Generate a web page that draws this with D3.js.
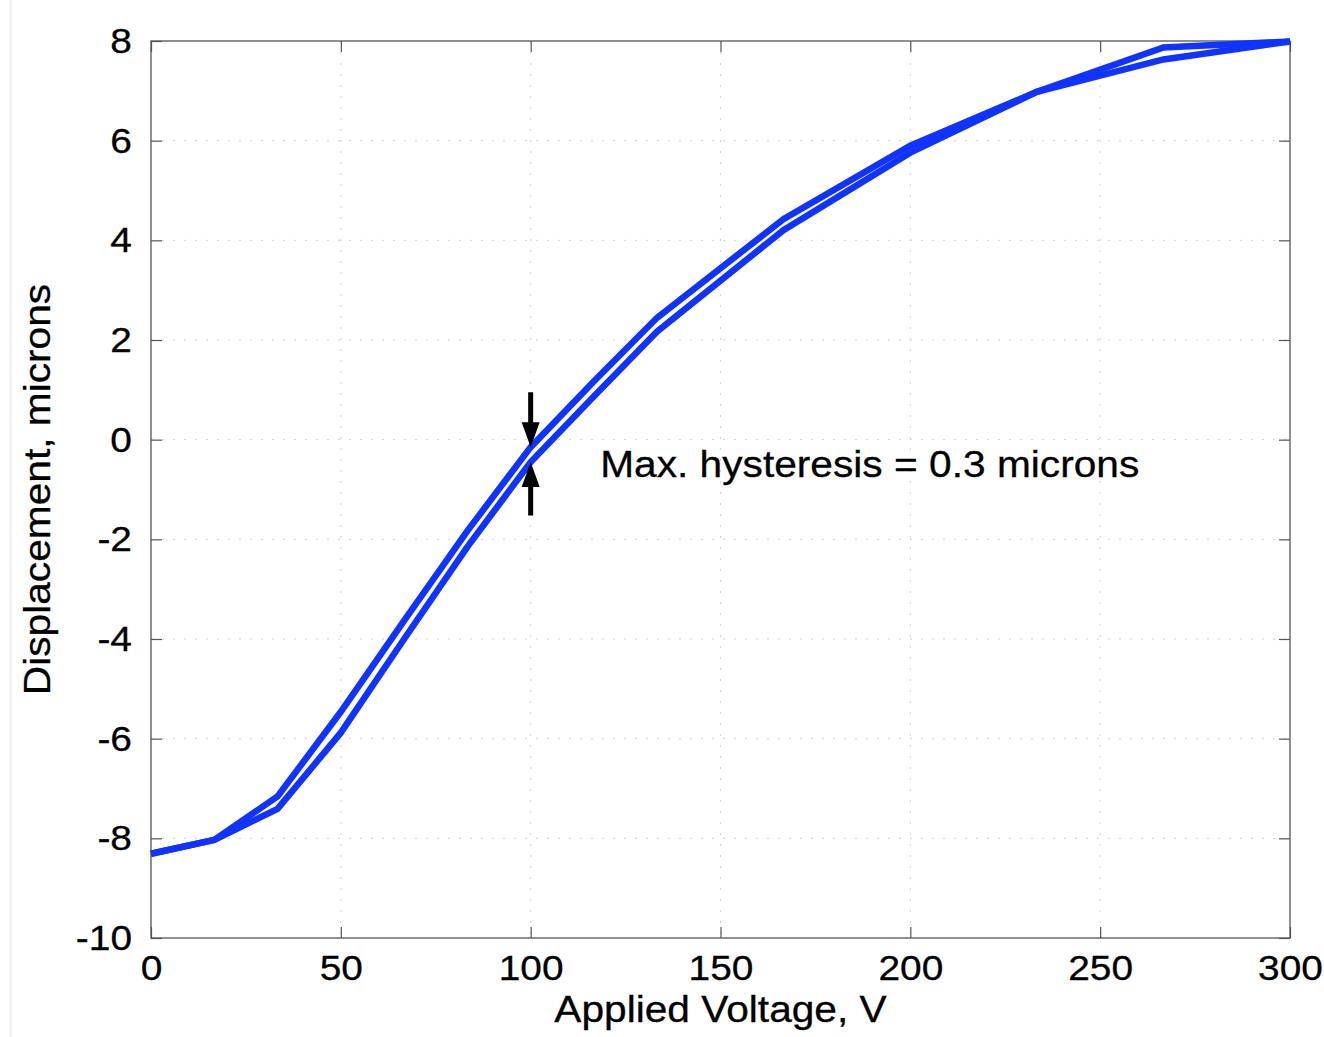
<!DOCTYPE html>
<html lang="en">
<head>
<meta charset="utf-8">
<title>Hysteresis: displacement vs applied voltage</title>
<script src="https://cdnjs.cloudflare.com/ajax/libs/d3/7.8.5/d3.min.js"></script>
<style type="text/css">
	body { margin: 0; background: #fff; }
	svg { display: block; font-family: Arial, "Liberation Sans", Helvetica, sans-serif; }
	.axis path { display: none; }
	.axis line { stroke: #555; stroke-width: 1.2; }
	.axis text { font-size: 36px; fill: #000; font-family: Arial, "Liberation Sans", Helvetica, sans-serif; stroke: #000; stroke-width: 0.3; }
	.label { font-size: 36px; fill: #000; stroke: #000; stroke-width: 0.3; }
	.grid line { stroke: #d0d0d0; stroke-width: 1; stroke-dasharray: 2,9; }
</style>
</head>
<body>
<script type="text/javascript">

	// data
	var voltage = [0, 16.67, 33.33, 50, 66.67, 83.33, 100, 116.67, 133.33, 166.67, 200, 233.33, 266.67, 300];
	var upperBranch = [-8.31, -8.03, -7.16, -5.46, -3.63, -1.83, -0.15, 1.17, 2.45, 4.43, 5.90, 6.98, 7.87, 7.99];
	var lowerBranch = [-8.31, -8.03, -7.41, -5.88, -4.00, -2.15, -0.45, 0.87, 2.17, 4.21, 5.76, 6.98, 7.63, 7.99];

	var xTicks = [0, 50, 100, 150, 200, 250, 300];
	var yTicks = [-10, -8, -6, -4, -2, 0, 2, 4, 6, 8];

	// arrows marking the max gap (voltage, start, tip)
	var arrows = [
		{ v: 100, from: 0.95, to: -0.15 },
		{ v: 100, from: -1.52, to: -0.45 }
	];
	var noteText = "Max. hysteresis = 0.3 microns";
	var notePos = [118.3, -0.74];

	var W = 1324, H = 1037;
	var margin = { top: 41, right: 34, bottom: 99, left: 151 };
	var w = W - margin.left - margin.right;
	var h = H - margin.top - margin.bottom;

	// the original lettering is a bit wider than Arial at the same height
	var textStretch = 1.13, tickStretch = 1.08;

	// move x/y into a transform so the glyphs can be widened in place
	function stretch(sel, k, rot) {
		sel.each(function() {
			var t = d3.select(this);
			var tx = +t.attr("x") || 0, ty = +t.attr("y") || 0;
			t.attr("x", 0).attr("y", 0)
				.attr("transform", "translate(" + tx + "," + ty + ")" + (rot ? " rotate(" + rot + ")" : "") + " scale(" + k + ",1)");
		});
	}

	var svg = d3.select("body").append("svg")
		.attr("width", W)
		.attr("height", H);

	// faint border line at the far left of the original image
	svg.append("line")
		.attr("x1", 10.5).attr("x2", 10.5)
		.attr("y1", 0).attr("y2", H)
		.style("stroke", "#ececec")
		.style("stroke-width", 2);

	var g = svg.append("g")
		.attr("transform", "translate(" + margin.left + "," + margin.top + ")");

	var x = d3.scaleLinear().domain([0, 300]).range([0, w]);
	var y = d3.scaleLinear().domain([-10, 8]).range([h, 0]);

	// dotted grid
	g.append("g").attr("class", "grid")
		.selectAll("line").data(xTicks.slice(1, -1)).enter().append("line")
		.attr("x1", d => x(d)).attr("x2", d => x(d))
		.attr("y1", 0).attr("y2", h);
	g.append("g").attr("class", "grid")
		.selectAll("line").data(yTicks.slice(1, -1)).enter().append("line")
		.attr("x1", 0).attr("x2", w)
		.attr("y1", d => y(d)).attr("y2", d => y(d));

	// axes with inward ticks on all four sides
	var fmt = d => String(d);
	var xAxis = g.append("g").attr("class", "axis")
		.attr("transform", "translate(0," + h + ")")
		.call(d3.axisBottom(x).tickValues(xTicks).tickSize(-11).tickPadding(16).tickFormat(fmt));
	g.append("g").attr("class", "axis")
		.call(d3.axisTop(x).tickValues(xTicks).tickSize(-11).tickFormat(""));
	var yAxis = g.append("g").attr("class", "axis")
		.call(d3.axisLeft(y).tickValues(yTicks).tickSize(-11).tickPadding(19).tickFormat(fmt));
	g.append("g").attr("class", "axis")
		.attr("transform", "translate(" + w + ",0)")
		.call(d3.axisRight(y).tickValues(yTicks).tickSize(-11).tickFormat(""));

	stretch(xAxis.selectAll("text"), tickStretch);
	stretch(yAxis.selectAll("text"), tickStretch);

	// frame
	g.append("rect")
		.attr("width", w).attr("height", h)
		.style("fill", "none")
		.style("stroke", "#555")
		.style("stroke-width", 1.3);

	// the two branches
	var line = d3.line()
		.x(d => x(d[0]))
		.y(d => y(d[1]));

	[upperBranch, lowerBranch].forEach(function(series) {
		g.append("path")
			.datum(voltage.map((v, i) => [v, series[i]]))
			.attr("d", line)
			.style("fill", "none")
			.style("stroke", "#1133ff")
			.style("stroke-width", 6.5)
			.style("stroke-linejoin", "miter");
	});

	// arrows
	var headLen = 25, headHalf = 9, stemHalf = 2.5;
	arrows.forEach(function(a) {
		var cx = x(a.v), y0 = y(a.from), y1 = y(a.to);
		var dir = y1 > y0 ? 1 : -1;
		var yb = y1 - dir * headLen;
		var pts = [
			[cx - stemHalf, y0], [cx + stemHalf, y0], [cx + stemHalf, yb],
			[cx + headHalf, yb], [cx, y1], [cx - headHalf, yb], [cx - stemHalf, yb]
		];
		g.append("path")
			.attr("d", "M" + pts.map(p => p.join(",")).join("L") + "Z")
			.style("fill", "#000");
	});

	// annotation
	g.append("text")
		.attr("class", "label")
		.attr("x", x(notePos[0]))
		.attr("y", y(notePos[1]))
		.text(noteText)
		.call(stretch, textStretch);

	// axis titles
	g.append("text")
		.attr("class", "label")
		.attr("x", w / 2)
		.attr("y", h + 84)
		.attr("text-anchor", "middle")
		.text("Applied Voltage, V")
		.call(stretch, textStretch);

	g.append("text")
		.attr("class", "label")
		.attr("x", -101)
		.attr("y", h / 2)
		.attr("text-anchor", "middle")
		.text("Displacement, microns")
		.call(stretch, textStretch, -90);

</script>
</body>
</html>
